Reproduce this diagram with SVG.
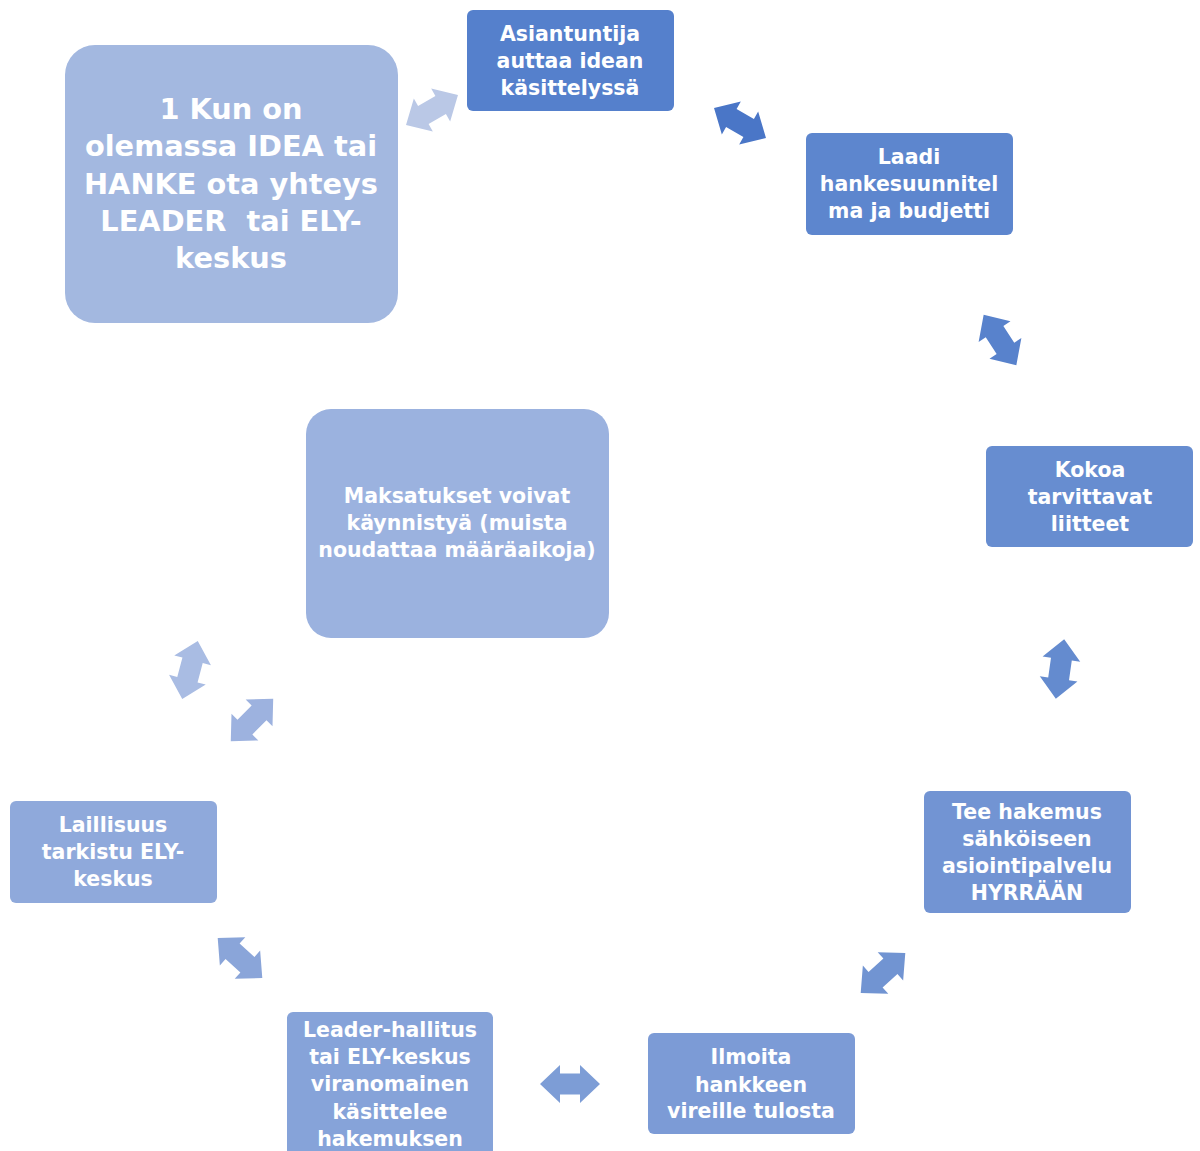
<svg xmlns="http://www.w3.org/2000/svg" width="1200" height="1151" viewBox="0 0 1200 1151">
<style>
.t{font-family:"DejaVu Sans","Verdana",sans-serif;font-weight:bold;fill:#fff;text-anchor:middle;font-size:20.5px}
.big{font-size:28.8px}
</style>
<defs>
<path id="arr" d="M-30,0 L-10,-19 L-10,-10.5 L10,-10.5 L10,-19 L30,0 L10,19 L10,10.5 L-10,10.5 L-10,19 Z"/>
</defs>
<rect width="1200" height="1151" fill="#fff"/>
<g id="connectors">
<use href="#arr" fill="#BAC8E6" transform="translate(432,110) rotate(-30)"/>
<use href="#arr" fill="#4A76C7" transform="translate(740,123) rotate(30)"/>
<use href="#arr" fill="#5882CC" transform="translate(1000,340) rotate(57)"/>
<use href="#arr" fill="#648BCF" transform="translate(1060,669) rotate(98)"/>
<use href="#arr" fill="#7194D2" transform="translate(883,973) rotate(-42)"/>
<use href="#arr" fill="#7D9DD6" transform="translate(570,1084)"/>
<use href="#arr" fill="#8AA5D9" transform="translate(240,958) rotate(42)"/>
<use href="#arr" fill="#9DB2DF" transform="translate(252,720) rotate(-45)"/>
<use href="#arr" fill="#A9BCE3" transform="translate(190,670) rotate(105)"/>
</g>
<g id="n1">
<rect x="65" y="45" width="333" height="278" rx="30" fill="#A3B8E0"/>
<text class="t big" x="231" y="119">1 Kun on</text>
<text class="t big" x="231" y="156">olemassa IDEA tai</text>
<text class="t big" x="231" y="194">HANKE ota yhteys</text>
<text class="t big" x="231" y="231" xml:space="preserve">LEADER  tai ELY-</text>
<text class="t big" x="231" y="268">keskus</text>
</g>
<g id="n2">
<rect x="467" y="10" width="207" height="101" rx="6" fill="#5580CC"/>
<text class="t" x="570" y="41">Asiantuntija</text>
<text class="t" x="570" y="68">auttaa idean</text>
<text class="t" x="570" y="95">käsittelyssä</text>
</g>
<g id="n3">
<rect x="806" y="133" width="207" height="102" rx="6" fill="#5D86CE"/>
<text class="t" x="909" y="164">Laadi</text>
<text class="t" x="909" y="191">hankesuunnitel</text>
<text class="t" x="909" y="218">ma ja budjetti</text>
</g>
<g id="n4">
<rect x="986" y="446" width="207" height="101" rx="6" fill="#678DD0"/>
<text class="t" x="1090" y="477">Kokoa</text>
<text class="t" x="1090" y="504">tarvittavat</text>
<text class="t" x="1090" y="531">liitteet</text>
</g>
<g id="n5">
<rect x="924" y="791" width="207" height="122" rx="6" fill="#7294D3"/>
<text class="t" x="1027" y="819">Tee hakemus</text>
<text class="t" x="1027" y="846">sähköiseen</text>
<text class="t" x="1027" y="873">asiointipalvelu</text>
<text class="t" x="1027" y="900">HYRRÄÄN</text>
</g>
<g id="n6">
<rect x="648" y="1033" width="207" height="101" rx="6" fill="#7C9BD6"/>
<text class="t" x="751" y="1064">Ilmoita</text>
<text class="t" x="751" y="1092">hankkeen</text>
<text class="t" x="751" y="1118">vireille tulosta</text>
</g>
<g id="n7">
<rect x="287" y="1012" width="206" height="150" rx="6" fill="#86A3D9"/>
<text class="t" x="390" y="1037">Leader-hallitus</text>
<text class="t" x="390" y="1064">tai ELY-keskus</text>
<text class="t" x="390" y="1091">viranomainen</text>
<text class="t" x="390" y="1119">käsittelee</text>
<text class="t" x="390" y="1146">hakemuksen</text>
</g>
<g id="n8">
<rect x="10" y="801" width="207" height="102" rx="6" fill="#8FA9DB"/>
<text class="t" x="113" y="832">Laillisuus</text>
<text class="t" x="113" y="859">tarkistu ELY-</text>
<text class="t" x="113" y="886">keskus</text>
</g>
<g id="n9">
<rect x="306" y="409" width="303" height="229" rx="25" fill="#9BB2DF"/>
<text class="t" x="457" y="503">Maksatukset voivat</text>
<text class="t" x="457" y="530">käynnistyä (muista</text>
<text class="t" x="457" y="557">noudattaa määräaikoja)</text>
</g>
</svg>
